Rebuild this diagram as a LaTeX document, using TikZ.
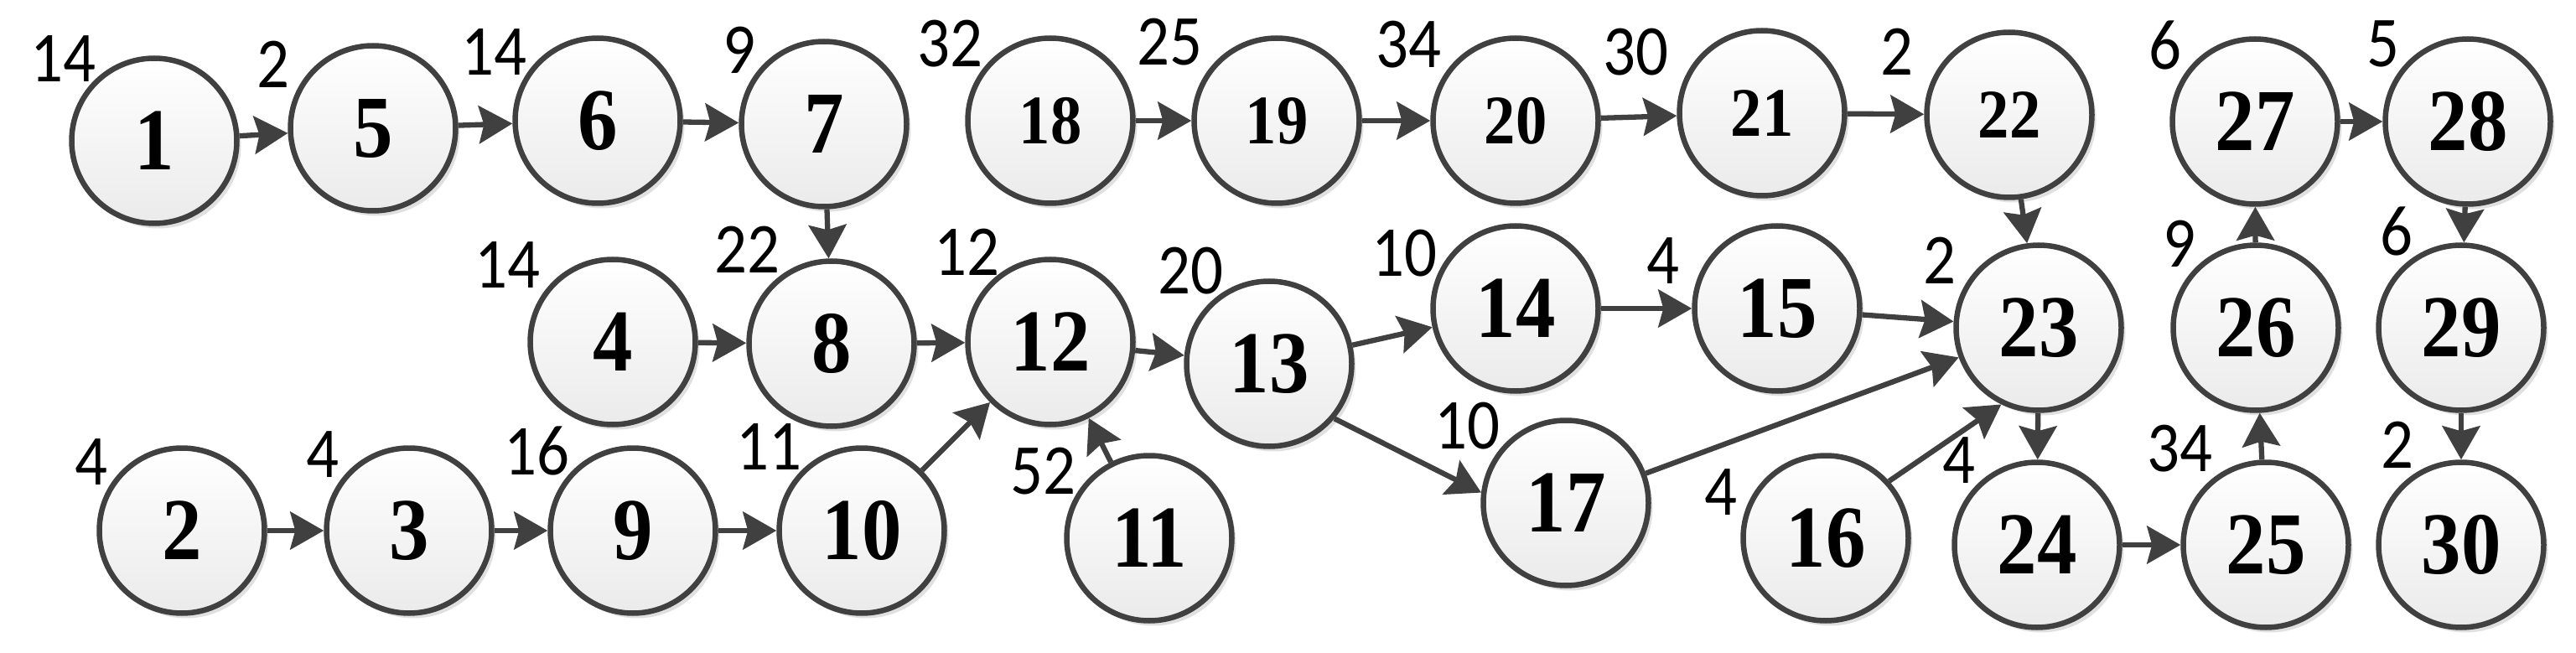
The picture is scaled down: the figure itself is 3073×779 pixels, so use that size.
\documentclass[tikz,border=0pt]{standalone}
\usepackage{fontspec}
\usetikzlibrary{arrows.meta,shadows}
\newfontfamily\numfont[FakeStretch=0.9]{Liberation Serif}
\newfontfamily\labfont[FakeStretch=0.9]{Carlito}
\definecolor{edge}{HTML}{404040}
\tikzset{
  job/.style={circle, draw=edge, line width=0.65mm, minimum size=19.7mm, inner sep=0pt,
    top color=white, bottom color=black!8,
    drop shadow={shadow xshift=0.5mm, shadow yshift=-0.6mm, fill=black!12, opacity=1},
    font=\numfont\bfseries\fontsize{30}{32}\selectfont},
  jobsm/.style={job, font=\numfont\bfseries\fontsize{23.6}{26}\selectfont},
  lab/.style={inner sep=0pt, font=\labfont\fontsize{24.3}{26}\selectfont},
  link/.style={draw=edge, line width=0.63mm,
    -{Stealth[length=4mm, width=4.5mm, inset=0.6mm]}},
}
\begin{document}
\begin{tikzpicture}[x=0.1mm, y=-0.1mm]
\useasboundingbox (0,0) rectangle (3073,779);
% nodes
\node[job] (n1) at (184,168) {1};
\node[job] (n5) at (445,153) {5};
\node[job] (n6) at (713,144) {6};
\node[job] (n7) at (983,148) {7};
\node[job] (n4) at (731,408) {4};
\node[job] (n8) at (992,410) {8};
\node[job] (n2) at (217,633) {2};
\node[job] (n3) at (488,633) {3};
\node[job] (n9) at (755,633) {9};
\node[job] (n10) at (1028,633) {10};
\node[job] (n12) at (1253,408) {12};
\node[job] (n11) at (1371,642) {11};
\node[job] (n13) at (1514,434) {13};
\node[job] (n14) at (1808,368) {14};
\node[job] (n15) at (2120,368) {15};
\node[job] (n17) at (1868,600) {17};
\node[job] (n16) at (2178,642) {16};
\node[jobsm] (n18) at (1253,144) {18};
\node[jobsm] (n19) at (1523,144) {19};
\node[jobsm] (n20) at (1808,144) {20};
\node[jobsm] (n21) at (2102,135) {21};
\node[jobsm] (n22) at (2397,137) {22};
\node[job] (n23) at (2432,391) {23};
\node[job] (n24) at (2430,650) {24};
\node[job] (n25) at (2703,650) {25};
\node[job] (n26) at (2691,391) {26};
\node[job] (n27) at (2690,145) {27};
\node[job] (n28) at (2944,145) {28};
\node[job] (n29) at (2936,391) {29};
\node[job] (n30) at (2936,650) {30};
% labels
\node[lab] (l1) at (75,70) {14};
\node[lab] (l5) at (326,77) {2};
\node[lab] (l6) at (589,62) {14};
\node[lab] (l7) at (882,60) {9};
\node[lab] (l4) at (605,316) {14};
\node[lab] (l8) at (891,298) {22};
\node[lab] (l2) at (109,551) {4};
\node[lab] (l3) at (385,542) {4};
\node[lab] (l9) at (640,538) {16};
\node[lab] (l10) at (917,533) {11};
\node[lab] (l11) at (1244,562) {52};
\node[lab] (l12) at (1153,301) {12};
\node[lab] (l13) at (1420,323) {20};
\node[lab] (l14) at (1675,302) {10};
\node[lab] (l15) at (1984,311) {4};
\node[lab] (l16) at (2053,587) {4};
\node[lab] (l17) at (1750,508) {10};
\node[lab] (l18) at (1133,52) {32};
\node[lab] (l19) at (1395,50) {25};
\node[lab] (l20) at (1680,53) {34};
\node[lab] (l21) at (1951,62) {30};
\node[lab] (l22) at (2263,62) {2};
\node[lab] (l23) at (2314,311) {2};
\node[lab] (l24) at (2337,549) {4};
\node[lab] (l25) at (2600,535) {34};
\node[lab] (l26) at (2600,291) {9};
\node[lab] (l27) at (2583,54) {6};
\node[lab] (l28) at (2843,52) {5};
\node[lab] (l29) at (2859,276) {6};
\node[lab] (l30) at (2860,531) {2};
% edges
\draw[link] (n1) -- (n5);
\draw[link] (n5) -- (n6);
\draw[link] (n6) -- (n7);
\draw[link] (n7) -- (n8);
\draw[link] (n4) -- (n8);
\draw[link] (n8) -- (n12);
\draw[link] (n2) -- (n3);
\draw[link] (n3) -- (n9);
\draw[link] (n9) -- (n10);
\draw[link] (n10) -- (n12);
\draw[link] (n11) -- (n12);
\draw[link] (n12) -- (n13);
\draw[link] (n13) -- (n14);
\draw[link] (n13.-40) -- (n17.173);
\draw[link] (n14) -- (n15);
\draw[link] (n15) -- (n23);
\draw[link] (n17) -- (n23);
\draw[link] (n16.42) -- (n23.244);
\draw[link] (n18) -- (n19);
\draw[link] (n19) -- (n20);
\draw[link] (n20) -- (n21);
\draw[link] (n21) -- (n22);
\draw[link] (n22) -- (n23);
\draw[link] (n23) -- (n24);
\draw[link] (n24) -- (n25);
\draw[link] (n25) -- (n26);
\draw[link] (n26) -- (n27);
\draw[link] (n27) -- (n28);
\draw[link] (n28) -- (n29);
\draw[link] (n29) -- (n30);
\end{tikzpicture}
\end{document}
